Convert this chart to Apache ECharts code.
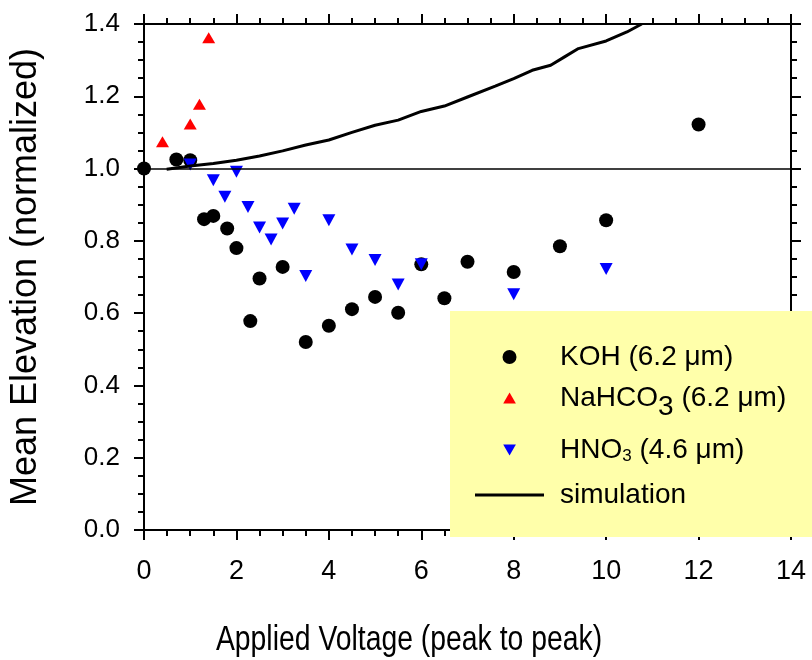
<!DOCTYPE html>
<html>
<head>
<meta charset="utf-8">
<script src="https://cdn.jsdelivr.net/npm/echarts@6/dist/echarts.min.js"></script>
<style>
  html, body { margin: 0; padding: 0; background: #fff; }
  #chart { width: 812px; height: 660px; }
</style>
</head>
<body>
<div id="chart"></div>
<script>
// Measured mean elevation versus applied voltage for three etchants
var kohVoltage = [0, 0.7, 1.0, 1.3, 1.5, 1.8, 2.0, 2.3, 2.5, 3.0, 3.5, 4.0, 4.5, 5.0, 5.5, 6.0, 6.5, 7.0, 8.0, 9.0, 10.0, 12.0];
var kohElevation = [1.000, 1.025, 1.023, 0.860, 0.869, 0.834, 0.780, 0.578, 0.696, 0.728, 0.520, 0.565, 0.611, 0.645, 0.601, 0.735, 0.641, 0.742, 0.714, 0.785, 0.857, 1.122];

var nahco3Voltage = [0.4, 1.0, 1.2, 1.4];
var nahco3Elevation = [1.074, 1.123, 1.178, 1.362];

var hno3Voltage = [1.0, 1.5, 1.75, 2.0, 2.25, 2.5, 2.75, 3.0, 3.25, 3.5, 4.0, 4.5, 5.0, 5.5, 6.0, 8.0, 10.0];
var hno3Elevation = [1.011, 0.968, 0.922, 0.991, 0.894, 0.837, 0.804, 0.848, 0.889, 0.703, 0.857, 0.776, 0.747, 0.679, 0.735, 0.652, 0.722];

// Simulated curve
var simVoltage = [0.49, 1.0, 1.5, 2.0, 2.5, 3.0, 3.5, 4.0, 4.5, 5.0, 5.5, 6.0, 6.5, 7.0, 7.6, 8.0, 8.4, 8.8, 9.1, 9.4, 10.0, 10.45, 10.77];
var simElevation = [0.998, 1.007, 1.014, 1.023, 1.035, 1.049, 1.065, 1.079, 1.100, 1.120, 1.134, 1.158, 1.173, 1.198, 1.228, 1.249, 1.272, 1.286, 1.309, 1.332, 1.353, 1.378, 1.400];

// Axis ranges and ticks
var xTicks = [0, 2, 4, 6, 8, 10, 12, 14];
var yTicks = [0.0, 0.2, 0.4, 0.6, 0.8, 1.0, 1.2, 1.4];
var baselineValue = 1.0;

// Series names shown in the legend, and axis titles
var seriesNames = ['KOH (6.2 μm)', 'NaHCO3 (6.2 μm)', 'HNO3 (4.6 μm)', 'simulation'];
var xTitle = 'Applied Voltage (peak to peak)';
var yTitle = 'Mean Elevation (normalized)';

function pairs(xs, ys) {
  return xs.map(function (x, i) { return [x, ys[i]]; });
}

var FONT = "'Liberation Sans', Arial, Helvetica, sans-serif";
var UP_TRI = 'path://M5,0L10,8.66L0,8.66Z';
var DOWN_TRI = 'path://M0,0L10,0L5,8.66Z';

var xMin = xTicks[0], xMax = xTicks[xTicks.length - 1], xStep = xTicks[1] - xTicks[0];
var yMin = yTicks[0], yMax = yTicks[yTicks.length - 1], yStep = +(yTicks[1] - yTicks[0]).toFixed(2);

function frameAxis(extra) {
  var base = {
    type: 'value',
    axisLine: { show: true, onZero: false, lineStyle: { color: '#000', width: 2 } },
    axisTick: { show: true, inside: false, length: 10, lineStyle: { color: '#000', width: 2 } },
    minorTick: { show: true, splitNumber: 4, length: 6, lineStyle: { color: '#000', width: 2 } },
    splitLine: { show: false },
    minorSplitLine: { show: false }
  };
  for (var k in extra) base[k] = extra[k];
  return base;
}

var legendText = {
  color: '#000',
  fontFamily: FONT,
  fontSize: 28,
  lineHeight: 28,
  padding: [0, 0, 0, 11],
  rich: {
    bigsub: { fontFamily: FONT, fontSize: 28, lineHeight: 28, color: '#000', padding: [18, 0, 0, 0] },
    sub: { fontFamily: FONT, fontSize: 17, lineHeight: 17, color: '#000', padding: [12, 0, 0, 0] }
  }
};

// One legend block per entry so each row sits at its own height
function legendFor(item, left, top, itemHeight) {
  return {
    show: true,
    orient: 'vertical',
    left: left,
    top: top,
    padding: 0,
    itemWidth: 69,
    itemHeight: itemHeight,
    selectedMode: false,
    data: [item],
    textStyle: legendText,
    formatter: function (n) {
      if (n === seriesNames[1]) return 'NaHCO{bigsub|3} (6.2 μm)';
      if (n === seriesNames[2]) return 'HNO{sub|3} (4.6 μm)';
      return n;
    }
  };
}

var chart = echarts.init(document.getElementById('chart'), null, { renderer: 'canvas' });

chart.setOption({
  animation: false,
  backgroundColor: '#fff',
  grid: { left: 144, right: 21, top: 24, bottom: 130, containLabel: false, outerBoundsMode: 'none' },
  xAxis: [
    frameAxis({
      position: 'bottom', min: xMin, max: xMax, interval: xStep,
      axisLabel: { show: true, margin: 28, fontFamily: FONT, fontSize: 27, color: '#000' }
    }),
    frameAxis({
      position: 'top', min: xMin, max: xMax, interval: xStep,
      axisLabel: { show: false }
    })
  ],
  yAxis: [
    frameAxis({
      position: 'left', min: yMin, max: yMax, interval: yStep,
      name: yTitle,
      nameLocation: 'middle', nameGap: 100,
      nameTextStyle: { fontFamily: FONT, fontSize: 36, color: '#000' },
      axisLabel: {
        show: true, margin: 24, fontFamily: FONT, fontSize: 26, color: '#000',
        formatter: function (v) { return v.toFixed(1); }
      }
    }),
    frameAxis({
      position: 'right', min: yMin, max: yMax, interval: yStep,
      axisLabel: { show: false }
    })
  ],
  legend: [
    legendFor(seriesNames[0], 502.5, 343, 14),
    legendFor(seriesNames[1], 503.2, 375, 11),
    legendFor(seriesNames[2], 503.2, 435.5, 11),
    legendFor({ name: seriesNames[3], icon: 'rect' }, 475, 481, 3)
  ],
  graphic: [
    {
      type: 'rect',
      z: 3,
      silent: true,
      shape: { x: 450, y: 311, width: 362, height: 226 },
      style: { fill: '#FFFFAA' }
    },
    {
      // condensed x-axis title
      type: 'text',
      z: 5,
      silent: true,
      x: 409,
      y: 640,
      scaleX: 0.81,
      style: {
        text: xTitle,
        x: 0,
        y: 0,
        fill: '#000',
        fontFamily: FONT,
        fontSize: 35,
        textAlign: 'center',
        textVerticalAlign: 'middle'
      }
    }
  ],
  series: [
    {
      name: seriesNames[3],
      type: 'line',
      data: pairs(simVoltage, simElevation),
      symbol: 'none',
      smooth: false,
      clip: true,
      lineStyle: { color: '#000', width: 3 },
      itemStyle: { color: '#000' },
      markLine: {
        silent: true,
        symbol: ['none', 'none'],
        label: { show: false },
        lineStyle: { color: '#000', width: 1.5, type: 'solid' },
        data: [{ yAxis: baselineValue }]
      }
    },
    {
      name: seriesNames[0],
      type: 'scatter',
      data: pairs(kohVoltage, kohElevation),
      symbol: 'circle',
      symbolSize: 14,
      itemStyle: { color: '#000', opacity: 1 }
    },
    {
      name: seriesNames[1],
      type: 'scatter',
      data: pairs(nahco3Voltage, nahco3Elevation),
      symbol: UP_TRI,
      symbolSize: [13, 11],
      itemStyle: { color: '#FF0000', opacity: 1 }
    },
    {
      name: seriesNames[2],
      type: 'scatter',
      data: pairs(hno3Voltage, hno3Elevation),
      symbol: DOWN_TRI,
      symbolSize: [13, 12],
      itemStyle: { color: '#0000FF', opacity: 1 }
    }
  ]
});
</script>
</body>
</html>
